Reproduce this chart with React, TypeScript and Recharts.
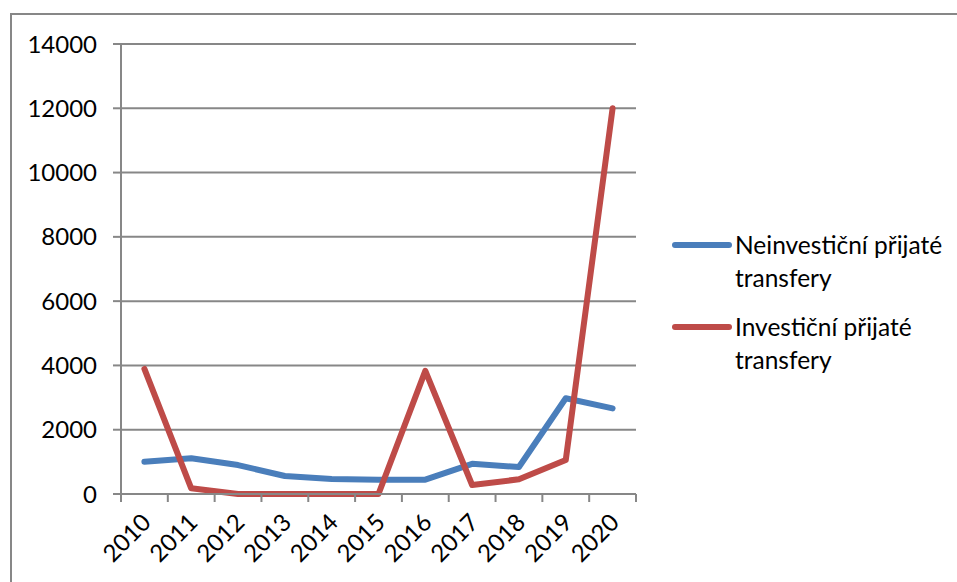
import React from "react";
import { LineChart, Line, CartesianGrid, XAxis, YAxis } from "recharts";

const years = ["2010", "2011", "2012", "2013", "2014", "2015", "2016", "2017", "2018", "2019", "2020"];
const neinvesticni = [1005, 1110, 900, 560, 467, 445, 445, 940, 840, 2980, 2665];
const investicni = [3890, 177, 0, 0, 0, 0, 3830, 280, 457, 1058, 12000];
const yTicks = [0, 2000, 4000, 6000, 8000, 10000, 12000, 14000];

const seriesNames = ["Neinvestiční přijaté transfery", "Investiční přijaté transfery"];
const seriesColors = ["#4A7EBB", "#BE4B48"];

const data = years.map((year, i) => ({
  year,
  neinvesticni: neinvesticni[i],
  investicni: investicni[i],
}));

const FONT = "Lato, 'Open Sans', sans-serif";
const GRID = "#878787";
const W = 957;
const H = 582;
const PLOT_LEFT = 121;
const PLOT_RIGHT = 636;
const BAND = (PLOT_RIGHT - PLOT_LEFT) / years.length;

// Excel-style category tick: label under the band centre, tick marks on band edges
const YearTick = (props: any) => {
  const { x, y, payload, index } = props;
  const lx = x + 8;
  const ly = y + 30;
  return (
    <g>
      <line x1={x - BAND / 2} y1={y} x2={x - BAND / 2} y2={y + 8} stroke={GRID} strokeWidth={2} />
      {index === years.length - 1 && (
        <line x1={x + BAND / 2} y1={y} x2={x + BAND / 2} y2={y + 8} stroke={GRID} strokeWidth={2} />
      )}
      <text
        x={lx}
        y={ly}
        textAnchor="end"
        fontSize={24}
        fontFamily={FONT}
        fill="#000"
        transform={`rotate(-45, ${lx}, ${ly})`}
      >
        {payload.value}
      </text>
    </g>
  );
};

const App: React.FC = () => {
  return (
    <div
      style={{
        position: "absolute",
        left: 0,
        top: 0,
        width: W,
        height: H,
        background: "#fff",
        overflow: "hidden",
        fontFamily: FONT,
      }}
    >
      {/* chart frame, only top and left edges are visible */}
      <div
        style={{
          position: "absolute",
          left: 10,
          top: 13,
          width: 1200,
          height: 1000,
          borderTop: `2px solid ${GRID}`,
          borderLeft: `2px solid ${GRID}`,
        }}
      />
      <div style={{ position: "absolute", left: 0, top: 0 }}>
        <LineChart
          width={W}
          height={H}
          data={data}
          margin={{ top: 44, right: W - PLOT_RIGHT, bottom: 8, left: 0 }}
        >
          <CartesianGrid vertical={false} stroke={GRID} strokeWidth={2} />
          <XAxis
            dataKey="year"
            scale="band"
            height={80}
            tickLine={false}
            tickSize={0}
            tickMargin={0}
            interval={0}
            axisLine={{ stroke: GRID, strokeWidth: 2 }}
            tick={<YearTick />}
          />
          <YAxis
            width={PLOT_LEFT}
            domain={[0, 14000]}
            ticks={yTicks}
            interval={0}
            tickSize={8}
            tickMargin={16}
            axisLine={{ stroke: GRID, strokeWidth: 2 }}
            tickLine={{ stroke: GRID, strokeWidth: 2 }}
            tick={{ fontSize: 24, fontFamily: FONT, fill: "#000" }}
          />
          <Line
            dataKey="neinvesticni"
            name={seriesNames[0]}
            stroke={seriesColors[0]}
            strokeWidth={6}
            strokeLinecap="round"
            strokeLinejoin="round"
            dot={false}
            isAnimationActive={false}
          />
          <Line
            dataKey="investicni"
            name={seriesNames[1]}
            stroke={seriesColors[1]}
            strokeWidth={6}
            strokeLinecap="round"
            strokeLinejoin="round"
            dot={false}
            isAnimationActive={false}
          />
        </LineChart>
      </div>

      {/* legend */}
      <div style={{ position: "absolute", left: 672, top: 228 }}>
        {seriesNames.map((name, i) => (
          <div key={name} style={{ display: "flex", alignItems: "flex-start", marginBottom: 16 }}>
            <div
              style={{
                width: 60,
                height: 6,
                borderRadius: 3,
                background: seriesColors[i],
                marginTop: 14,
                marginRight: 3,
              }}
            />
            <div style={{ width: 220, fontSize: 24.5, lineHeight: "33px", color: "#000" }}>{name}</div>
          </div>
        ))}
      </div>
    </div>
  );
};

export default App;
